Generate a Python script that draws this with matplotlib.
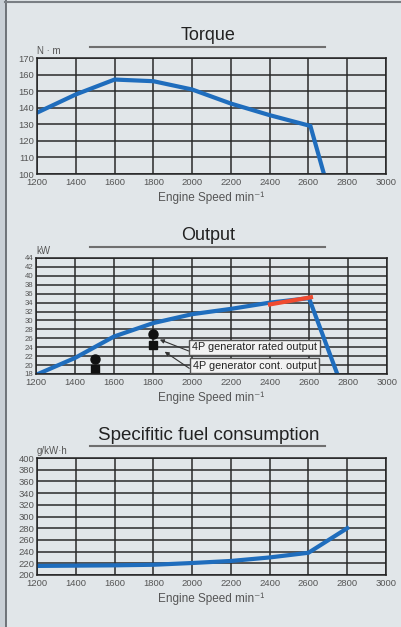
import matplotlib.pyplot as plt
from matplotlib.lines import Line2D
from matplotlib.patches import Rectangle

plt.rcParams['font.family'] = ['Liberation Sans Narrow', 'Liberation Sans', 'DejaVu Sans']

# torque curve
tq_rpm = [1200, 1400, 1600, 1800, 2000, 2200, 2400, 2610, 2680]
tq_val = [137, 148, 157, 156, 151, 142.5, 135.5, 129, 100]

# output curve
out_rpm = [1210, 1400, 1600, 1800, 2000, 2200, 2400, 2600, 2745]
out_val = [18, 21.6, 26.4, 29.4, 31.4, 32.6, 34.0, 35.0, 18]
red_rpm = [2400, 2610]
red_val = [33.6, 35.2]
gen_rpm = [1500, 1800]
gen_rated = [21.3, 26.9]
gen_cont = [19.2, 24.4]

# specific fuel consumption
sfc_rpm = [1200, 1400, 1600, 1800, 2000, 2200, 2400, 2600, 2800]
sfc_val = [215.5, 216, 216.5, 217.5, 220.5, 224, 230, 238, 280]

xticks = list(range(1200, 3001, 200))

bg = '#e1e6e9'
blue = '#1f6dbd'
red = '#ef4a2f'
txt = '#555555'

fig = plt.figure(figsize=(4.01, 6.27), dpi=100, facecolor=bg)
# frame of the page
fig.patches.append(Rectangle((0, 0), 5 / 401, 1, transform=fig.transFigure, color='#c9d0d6', zorder=0))
fig.lines.append(Line2D([5.5 / 401, 5.5 / 401], [0, 1], transform=fig.transFigure, color='#5c6166', lw=1.2))
fig.lines.append(Line2D([5 / 401, 1], [1 - 1.5 / 627, 1 - 1.5 / 627], transform=fig.transFigure, color='#7a7f84', lw=1.5))


def setup(ax, ylim, yticks, ysize, unit, title, ty, uy, tsize=13):
    ax.set_facecolor(bg)
    ax.set_xlim(1200, 3000)
    ax.set_ylim(*ylim)
    ax.set_xticks(xticks)
    ax.set_yticks(yticks)
    ax.grid(True, color='#2a2a2a', lw=1.1)
    ax.tick_params(length=0, colors=txt, labelsize=6.8, pad=3)
    ax.tick_params(axis='y', labelsize=ysize, pad=2)
    for s in ax.spines.values():
        s.set_color('#222222')
        s.set_linewidth(1.1)
    ax.set_xlabel('Engine Speed min⁻¹', color=txt, fontsize=8.5, labelpad=3,
                  family=['Liberation Sans', 'DejaVu Sans'])
    fig.text(0.52, ty, title, ha='center', va='center', fontsize=tsize, color='#222222',
             family=['Liberation Sans', 'DejaVu Sans'])
    fig.lines.append(Line2D([90 / 401, 325 / 401], [uy, uy], transform=fig.transFigure,
                            color='#6f6f6f', lw=1.5))
    ax.text(0.0, 1.02, unit, transform=ax.transAxes, ha='left', va='bottom', fontsize=7, color=txt)


# Torque
ax1 = fig.add_axes([37 / 401, 1 - 174 / 627, 349 / 401, 116 / 627])
setup(ax1, (100, 170), range(100, 171, 10), 6.8, 'N · m', 'Torque', 1 - 35 / 627, 1 - 47 / 627)
ax1.plot(tq_rpm, tq_val, color=blue, lw=3, solid_joinstyle='miter')

# Output
ax2 = fig.add_axes([36 / 401, 1 - 374 / 627, 351 / 401, 116 / 627])
setup(ax2, (18, 44), range(18, 45, 2), 5.6, 'kW', 'Output', 1 - 236 / 627, 1 - 247 / 627)
ax2.plot(out_rpm, out_val, color=blue, lw=3, solid_joinstyle='miter')
ax2.plot(red_rpm, red_val, color=red, lw=3)
ax2.plot(gen_rpm, gen_rated, 'o', color='#111111', ms=6.5, clip_on=False)
ax2.plot(gen_rpm, gen_cont, 's', color='#111111', ms=6, clip_on=False)
box = dict(boxstyle='square,pad=0.25', fc='#f2f2f2', ec='#555555', lw=1)
ax2.annotate('4P generator rated output', xy=(1835, 25.7), xytext=(2320, 24.0),
             ha='center', va='center', fontsize=7.8, color='#222222', bbox=box,
             arrowprops=dict(arrowstyle='-|>', color='#333333', lw=0.8, mutation_scale=6,
                             shrinkA=0, shrinkB=0, relpos=(0, 0)))
ax2.annotate('4P generator cont. output', xy=(1860, 23.0), xytext=(2320, 19.9),
             ha='center', va='center', fontsize=7.8, color='#222222', bbox=box,
             arrowprops=dict(arrowstyle='-|>', color='#333333', lw=0.8, mutation_scale=6,
                             shrinkA=0, shrinkB=0, relpos=(0, 0)))

# Specific fuel consumption
ax3 = fig.add_axes([37 / 401, 1 - 575 / 627, 349 / 401, 117 / 627])
setup(ax3, (200, 400), range(200, 401, 20), 6.8, 'g/kW·h', 'Specifitic fuel consumption',
      1 - 436 / 627, 1 - 446 / 627, tsize=13.5)
ax3.plot(sfc_rpm, sfc_val, color=blue, lw=3, solid_joinstyle='miter')

fig.savefig('out.png', dpi=100, facecolor=bg)
